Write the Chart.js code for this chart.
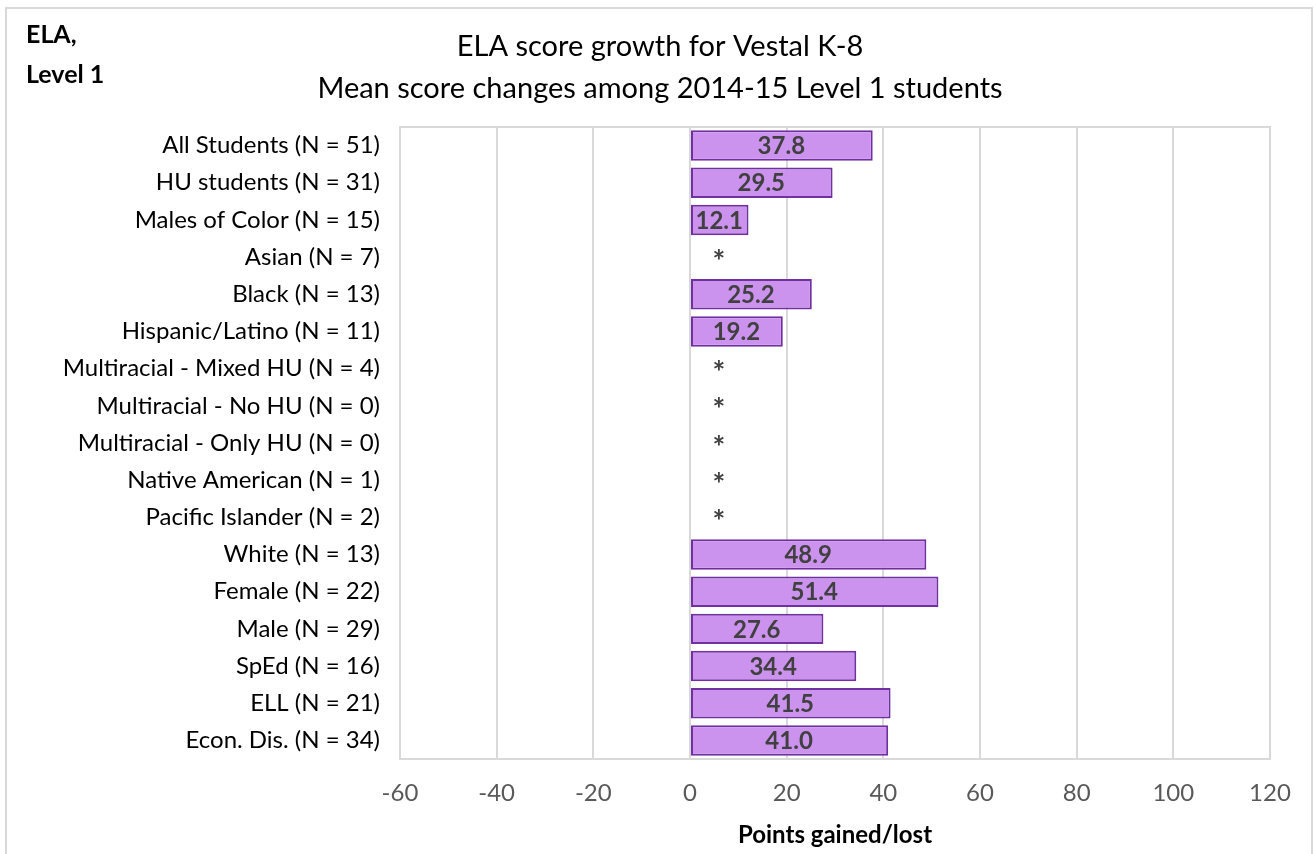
<!DOCTYPE html>
<html>
<head>
<meta charset="utf-8">
<script src="https://cdn.jsdelivr.net/npm/chart.js@4"></script>
<style>
  html, body { margin: 0; padding: 0; background: #fff; }
  #wrap { position: relative; width: 1316px; height: 854px; overflow: hidden; }
  #frame { position: absolute; left: 5px; top: 7px; width: 1308px; height: 900px; border: 2px solid #d9d9d9; box-sizing: border-box; }
  canvas { position: absolute; left: 0; top: 0; }
</style>
</head>
<body>
<div id="wrap">
  <div id="frame"></div>
  <canvas id="chart" width="1316" height="854"></canvas>
</div>
<script>
const groups = [
  'All Students (N = 51)', 'HU students (N = 31)', 'Males of Color (N = 15)', 'Asian (N = 7)',
  'Black (N = 13)', 'Hispanic/Latino (N = 11)', 'Multiracial - Mixed HU (N = 4)',
  'Multiracial - No HU (N = 0)', 'Multiracial - Only HU (N = 0)', 'Native American (N = 1)',
  'Pacific Islander (N = 2)', 'White (N = 13)', 'Female (N = 22)', 'Male (N = 29)',
  'SpEd (N = 16)', 'ELL (N = 21)', 'Econ. Dis. (N = 34)'
];
// null = suppressed group, shown as "*"
const scoreChange = [37.8, 29.5, 12.1, null, 25.2, 19.2, null, null, null, null, null, 48.9, 51.4, 27.6, 34.4, 41.5, 41.0];
const titleLines = ['ELA score growth for Vestal K-8', 'Mean score changes among 2014-15 Level 1 students'];
const cornerLines = ['ELA,', 'Level 1'];
const axisTitle = 'Points gained/lost';

const FONT = 'Lato, "Noto Sans", sans-serif';

// labels, stars, titles and plot frame
const extras = {
  id: 'extras',
  afterDatasetsDraw(chart) {
    const { ctx, chartArea, scales } = chart;
    const meta = chart.getDatasetMeta(0);
    ctx.save();
    ctx.textAlign = 'center';
    ctx.textBaseline = 'middle';
    ctx.fillStyle = '#404040';
    scoreChange.forEach((v, i) => {
      const y = meta.data[i].y;
      if (v === null) {
        ctx.font = `bold 30px ${FONT}`;
        ctx.fillText('*', scales.x.getPixelForValue(6), y + 5);
      } else {
        ctx.font = `bold 24px ${FONT}`;
        ctx.fillText(v.toFixed(1), scales.x.getPixelForValue(v / 2), y + 1);
      }
    });
    ctx.strokeStyle = '#d9d9d9';
    ctx.lineWidth = 2;
    ctx.strokeRect(chartArea.left, chartArea.top, chartArea.right - chartArea.left, chartArea.bottom - chartArea.top);
    ctx.restore();
  },
  afterDraw(chart) {
    const { ctx } = chart;
    ctx.save();
    ctx.fillStyle = '#000';
    ctx.textBaseline = 'middle';
    ctx.textAlign = 'center';
    ctx.font = `29px ${FONT}`;
    ctx.fillText(titleLines[0], 660, 47);
    ctx.fillText(titleLines[1], 660, 89);
    ctx.textAlign = 'left';
    ctx.font = `bold 25px ${FONT}`;
    ctx.fillText(cornerLines[0], 26, 35);
    ctx.fillText(cornerLines[1], 26, 75);
    ctx.restore();
  }
};

new Chart(document.getElementById('chart'), {
  type: 'bar',
  data: {
    labels: groups,
    datasets: [{
      data: scoreChange,
      backgroundColor: '#cc93ee',
      borderColor: '#7030a0',
      borderWidth: 2,
      borderSkipped: false,
      barPercentage: 0.82,
      categoryPercentage: 1
    }]
  },
  options: {
    indexAxis: 'y',
    responsive: false,
    animation: false,
    layout: { padding: { top: 127, right: 46, bottom: 0, left: 0 } },
    plugins: { legend: { display: false }, tooltip: { enabled: false }, title: { display: false } },
    scales: {
      x: {
        min: -60,
        max: 120,
        ticks: { stepSize: 20, color: '#595959', font: { family: FONT, size: 24 }, padding: 20 },
        grid: { color: '#d9d9d9', lineWidth: 2, drawTicks: false },
        border: { display: false },
        title: { display: true, text: axisTitle, color: '#000', font: { family: FONT, size: 24, weight: 'bold' }, padding: { top: 6, bottom: 4 } },
        afterFit(scale) { scale.height = 95; }
      },
      y: {
        ticks: { color: '#000', font: { family: FONT, size: 24 }, padding: 12 },
        grid: { display: false },
        border: { display: false },
        afterFit(scale) { scale.width = 400; }
      }
    }
  },
  plugins: [extras]
});
</script>
</body>
</html>
